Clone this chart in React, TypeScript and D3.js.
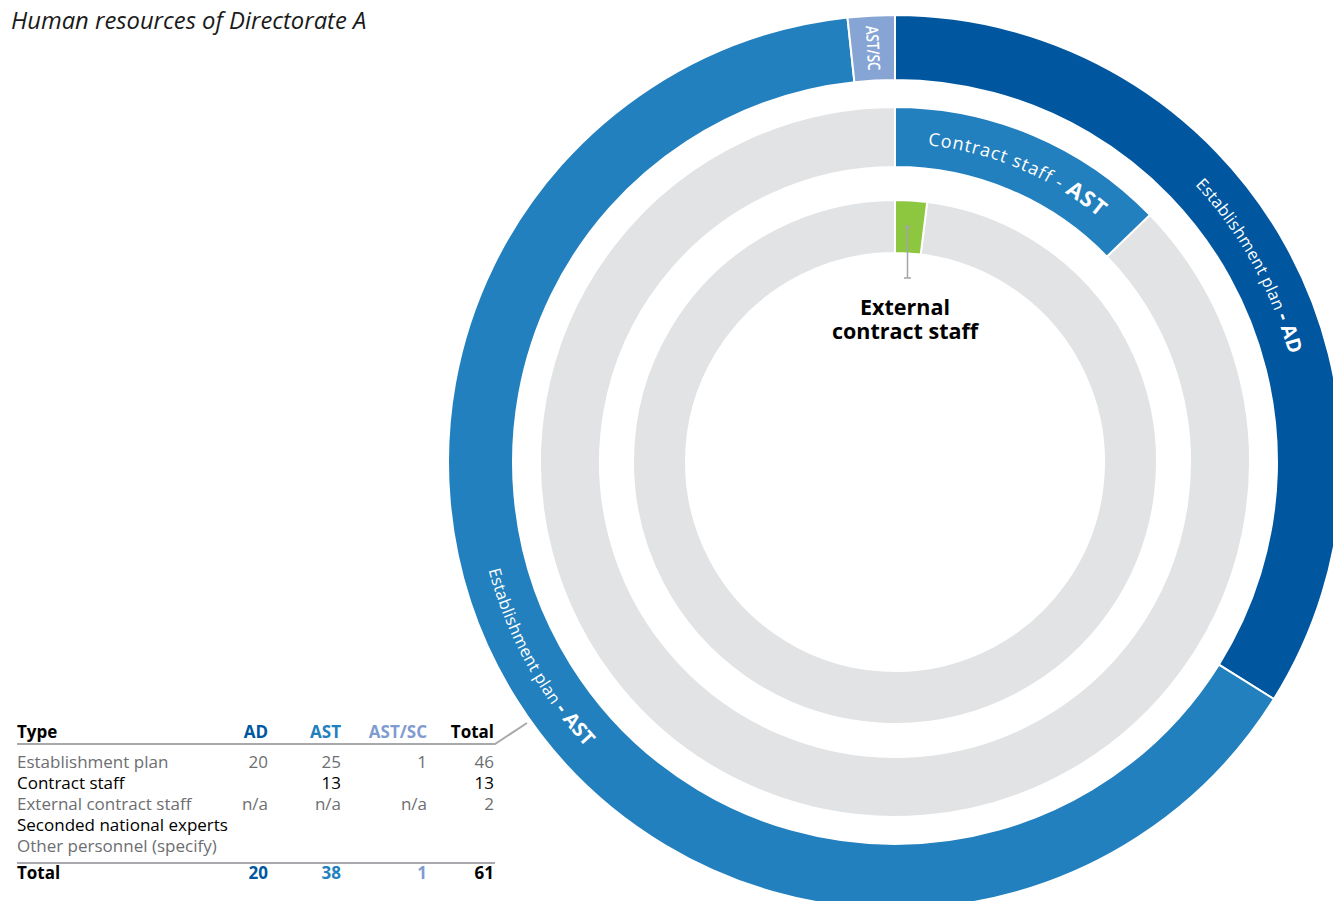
import React from "react";
import * as d3 from "d3";

// ---------- data ----------
const title = "Human resources of Directorate A";
const categories = ["AD", "AST", "AST/SC"];
const categoryColors = ["#00579f", "#2380be", "#86a5d5"];
const categoryTotals = [20, 38, 1];
const contractStaffAST = 13;
const externalContractStaff = 2;
const innerRingCapacity = 102;

const tableHeader = ["Type", "AD", "AST", "AST/SC", "Total"];
const rowLabels = [
  "Establishment plan",
  "Contract staff",
  "External contract staff",
  "Seconded national experts",
  "Other personnel (specify)",
];
const rowAD = ["20", "", "n/a", "", ""];
const rowAST = ["25", "13", "n/a", "", ""];
const rowASTSC = ["1", "", "n/a", "", ""];
const rowTotal = ["46", "13", "2", "", ""];
const totalRow = ["Total", "20", "38", "1", "61"];

// ---------- layout ----------
const W = 1333;
const H = 901;
const cx = 895;
const cy = 462;
const outerRing = [382, 447];
const middleRing = [295, 355];
const innerRing = [209, 262];

const GRAY_BG = "#e2e3e5";
const GREEN = "#8dc63f";
const TXT_GRAY = "#6d6e71";
const FONT = "'Open Sans', 'Noto Sans', sans-serif";

function arcPath(r: number, a0: number, a1: number, sweep: number) {
  const x0 = r * Math.sin(a0), y0 = -r * Math.cos(a0);
  const x1 = r * Math.sin(a1), y1 = -r * Math.cos(a1);
  const large = Math.abs(a1 - a0) > Math.PI ? 1 : 0;
  return `M${x0},${y0}A${r},${r} 0 ${large} ${sweep} ${x1},${y1}`;
}

export default function App() {
  const pie = d3.pie<number>().sort(null).value((d) => d);
  const outerSlices = pie(categoryTotals);
  const outerArc = d3.arc<any>().innerRadius(outerRing[0]).outerRadius(outerRing[1]);

  const ringScale = d3.scaleLinear().domain([0, innerRingCapacity]).range([0, 2 * Math.PI]);
  const middleArc = d3.arc<any>().innerRadius(middleRing[0]).outerRadius(middleRing[1]);
  const innerArc = d3.arc<any>().innerRadius(innerRing[0]).outerRadius(innerRing[1]);

  const contractEnd = ringScale(contractStaffAST);
  const externalEnd = ringScale(externalContractStaff);

  const greenCentroid = innerArc.centroid({ startAngle: 0, endAngle: externalEnd } as any);
  const leaderX = greenCentroid[0] - 2;

  const outerMid = (outerRing[0] + outerRing[1]) / 2;
  const middleMid = (middleRing[0] + middleRing[1]) / 2;

  // label paths
  const adSlice = outerSlices[0];
  const astSlice = outerSlices[1];
  const scSlice = outerSlices[2];
  const adPath = arcPath(outerMid - 6, adSlice.startAngle, adSlice.endAngle, 1);
  const astPath = arcPath(outerMid + 6, astSlice.endAngle, astSlice.startAngle, 0);
  const contractPath = arcPath(middleMid - 6.5, 0, contractEnd, 1);
  const scMidAngle = (scSlice.startAngle + scSlice.endAngle) / 2;
  const scX = outerMid * Math.sin(scMidAngle);
  const scY = -outerMid * Math.cos(scMidAngle);
  const scRot = (scMidAngle * 180) / Math.PI + 90;

  // table
  const tLeft = 17;
  const colRight = [268, 341, 427, 494];
  const headerY = 738;
  const rowY = d3.range(rowLabels.length).map((i) => 768 + i * 21);
  const totalY = 879;
  const headerColors = ["#000", categoryColors[0], categoryColors[1], "#7f9bcf", "#000"];
  const rowColor = (i: number) => (i % 2 === 0 ? TXT_GRAY : "#000");
  const cols = [rowAD, rowAST, rowASTSC, rowTotal];

  return (
    <div style={{ position: "absolute", left: 0, top: 0 }}>
      <svg width={W} height={H} style={{ display: "block", fontFamily: FONT }}>
        <rect width={W} height={H} fill="#fff" />
        <text x={11} y={29} fontSize={23.8} fontStyle="italic" fill="#1a1a1a">
          {title}
        </text>

        <g transform={`translate(${cx},${cy})`}>
          {/* outer ring */}
          {outerSlices.map((s, i) => (
            <path key={categories[i]} d={outerArc(s) as string} fill={categoryColors[i]} stroke="#fff" strokeWidth={2} />
          ))}
          {/* middle ring */}
          <path d={middleArc({ startAngle: contractEnd, endAngle: 2 * Math.PI } as any) as string} fill={GRAY_BG} stroke="#fff" strokeWidth={2} />
          <path d={middleArc({ startAngle: 0, endAngle: contractEnd } as any) as string} fill={categoryColors[1]} stroke="#fff" strokeWidth={2} />
          {/* inner ring */}
          <path d={innerArc({ startAngle: externalEnd, endAngle: 2 * Math.PI } as any) as string} fill={GRAY_BG} stroke="#fff" strokeWidth={2} />
          <path d={innerArc({ startAngle: 0, endAngle: externalEnd } as any) as string} fill={GREEN} stroke="#fff" strokeWidth={2} />

          <defs>
            <path id="adLabel" d={adPath} />
            <path id="astLabel" d={astPath} />
            <path id="contractLabel" d={contractPath} />
          </defs>

          <text fill="#fff" fontSize={16.5} letterSpacing={0.2}>
            <textPath href="#adLabel" startOffset="50%" textAnchor="middle">
              Establishment plan <tspan fontWeight="bold" fontSize={20}>- AD</tspan>
            </textPath>
          </text>
          <text fill="#fff" fontSize={16.5} letterSpacing={0.2}>
            <textPath href="#astLabel" startOffset="48.6%" textAnchor="middle">
              Establishment plan <tspan fontWeight="bold" fontSize={20}>- AST</tspan>
            </textPath>
          </text>
          <text fill="#fff" fontSize={18} letterSpacing={1}>
            <textPath href="#contractLabel" startOffset="50%" textAnchor="middle">
              Contract staff - <tspan fontWeight="bold" fontSize={22}>AST</tspan>
            </textPath>
          </text>
          <text
            transform={`translate(${scX},${scY}) rotate(${scRot})`}
            fill="#fff"
            fontSize={17}
            fontWeight={600}
            textAnchor="middle"
            dy="0.35em"
            textLength={45}
            lengthAdjust="spacingAndGlyphs"
          >
            {categories[2]}
          </text>

          {/* leader for external staff */}
          <line x1={leaderX} y1={greenCentroid[1]} x2={leaderX} y2={278 - cy} stroke="#a3a4a6" strokeWidth={1.5} />
          <circle cx={leaderX} cy={greenCentroid[1]} r={2} fill="#a3a4a6" />
          <line x1={leaderX - 3.5} y1={278 - cy} x2={leaderX + 3.5} y2={278 - cy} stroke="#a3a4a6" strokeWidth={1.5} />
          <text x={leaderX - 2.5} y={315 - cy} textAnchor="middle" fontWeight="bold" fontSize={21.5} fill="#000">
            External
          </text>
          <text x={leaderX - 2.5} y={339 - cy} textAnchor="middle" fontWeight="bold" fontSize={21.5} fill="#000">
            contract staff
          </text>
        </g>

        {/* table */}
        <g fontSize={17}>
          <text x={tLeft} y={headerY} fontWeight="bold" fill="#000">{tableHeader[0]}</text>
          {tableHeader.slice(1).map((h, i) => (
            <text key={h} x={colRight[i]} y={headerY} textAnchor="end" fontWeight="bold" fill={headerColors[i + 1]}>
              {h}
            </text>
          ))}
          <polyline points={`${tLeft},744 495,744 527,723`} fill="none" stroke="#a7a9ac" strokeWidth={2} />
          {rowLabels.map((lab, r) => (
            <g key={lab} fill={rowColor(r)}>
              <text x={tLeft} y={rowY[r]}>{lab}</text>
              {cols.map((c, j) => (
                <text key={j} x={colRight[j]} y={rowY[r]} textAnchor="end">{c[r]}</text>
              ))}
            </g>
          ))}
          <line x1={tLeft} y1={863} x2={495} y2={863} stroke="#a7a9ac" strokeWidth={2} />
          <text x={tLeft} y={totalY} fontWeight="bold" fill="#000">{totalRow[0]}</text>
          {totalRow.slice(1).map((v, i) => (
            <text key={i} x={colRight[i]} y={totalY} textAnchor="end" fontWeight="bold" fill={headerColors[i + 1]}>
              {v}
            </text>
          ))}
        </g>
      </svg>
    </div>
  );
}
